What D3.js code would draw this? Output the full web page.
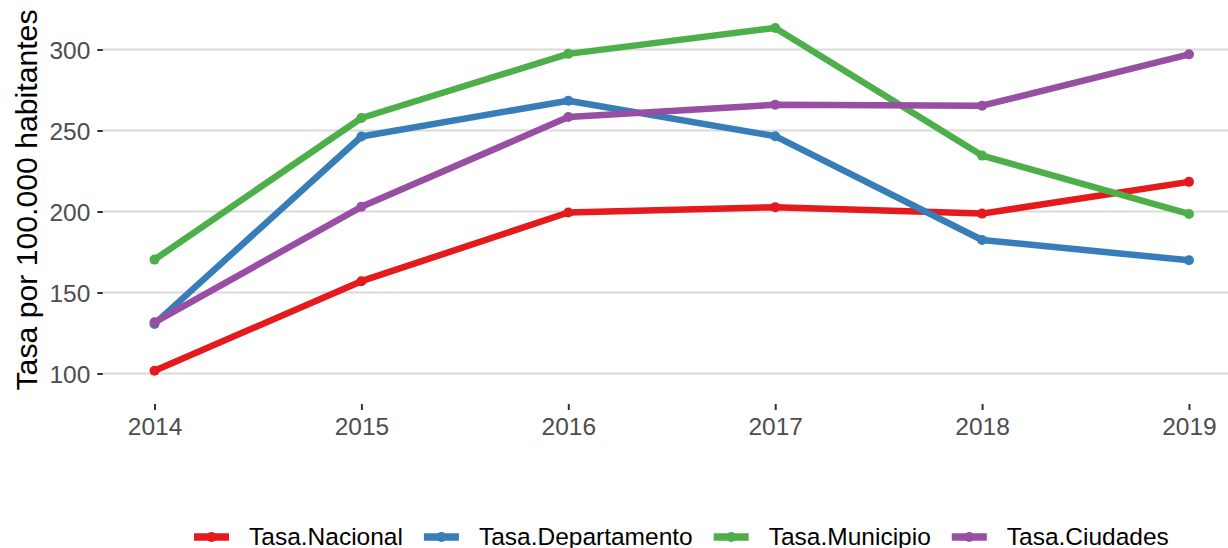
<!DOCTYPE html>
<html>
<head>
<meta charset="utf-8">
<script src="https://cdn.jsdelivr.net/npm/d3@7"></script>
<style>
  body { margin: 0; background: #fff; }
  svg { display: block; font-family: "Liberation Sans", Arial, sans-serif; }
</style>
</head>
<body>
<div id="chart"></div>
<script>
// data
var years = [2014, 2015, 2016, 2017, 2018, 2019];
var seriesNames = ["Tasa.Nacional", "Tasa.Departamento", "Tasa.Municipio", "Tasa.Ciudades"];
var tasaNacional = [101.7, 157.0, 199.4, 202.7, 198.7, 218.3];
var tasaDepartamento = [130.6, 246.3, 268.4, 246.5, 182.4, 169.9];
var tasaMunicipio = [170.3, 257.7, 297.3, 313.3, 234.5, 198.5];
var tasaCiudades = [131.6, 202.9, 258.3, 265.9, 265.3, 297.0];
var yTicks = [100, 150, 200, 250, 300];
var colors = ["#E41A1C", "#377EB8", "#4DAF4A", "#984EA3"];

var W = 1228, H = 548;
var margin = {top: 10.8, left: 102.8, right: -12.7, bottom: 144};
var panelW = W - margin.left - margin.right,
    panelH = 387.9 - margin.top;

var allSeries = [tasaNacional, tasaDepartamento, tasaMunicipio, tasaCiudades];
var series = seriesNames.map(function(name, i) {
  return {name: name, color: colors[i], values: years.map(function(y, j) { return {year: y, value: allSeries[i][j]}; })};
});

// ggplot-like 5% expansion
var yMin = d3.min(allSeries, function(s) { return d3.min(s); }),
    yMax = d3.max(allSeries, function(s) { return d3.max(s); }),
    yPad = (yMax - yMin) * 0.05,
    xPad = (d3.max(years) - d3.min(years)) * 0.05;

var x = d3.scaleLinear()
  .domain([d3.min(years) - xPad, d3.max(years) + xPad])
  .range([margin.left, margin.left + panelW]);
var y = d3.scaleLinear()
  .domain([yMin - yPad, yMax + yPad])
  .range([margin.top + panelH, margin.top]);

var svg = d3.select("#chart").append("svg")
  .attr("width", W)
  .attr("height", H);

// horizontal gridlines
svg.append("g").selectAll("line")
  .data(yTicks)
  .enter().append("line")
  .attr("x1", margin.left)
  .attr("x2", margin.left + panelW)
  .attr("y1", function(d) { return y(d); })
  .attr("y2", function(d) { return y(d); })
  .attr("stroke", "#DADADA")
  .attr("stroke-width", 2);

// y axis
var yAxis = svg.append("g")
  .attr("transform", "translate(" + margin.left + ",0)")
  .call(d3.axisLeft(y).tickValues(yTicks).tickSize(5.5).tickPadding(7));
yAxis.select(".domain").remove();
yAxis.selectAll(".tick line").attr("stroke", "#333").attr("stroke-width", 2);
yAxis.selectAll(".tick text")
  .attr("fill", "#4D4D4D")
  .style("font-size", "24.5px")
  .attr("dy", "0.36em");

// x axis
var xAxis = svg.append("g")
  .attr("transform", "translate(0,404)")
  .call(d3.axisBottom(x).tickValues(years).tickFormat(d3.format("d")).tickSize(6).tickPadding(8));
xAxis.select(".domain").remove();
xAxis.selectAll(".tick line").attr("stroke", "#333").attr("stroke-width", 2);
xAxis.selectAll(".tick text")
  .attr("fill", "#4D4D4D")
  .style("font-size", "24.5px")
  .attr("y", 31)
  .attr("dy", 0);

// y axis title
svg.append("text")
  .attr("transform", "translate(37,200) rotate(-90)")
  .attr("text-anchor", "middle")
  .style("font-size", "30.2px")
  .attr("fill", "#000")
  .text("Tasa por 100.000 habitantes");

// lines
var line = d3.line()
  .x(function(d) { return x(d.year); })
  .y(function(d) { return y(d.value); });

svg.append("g").selectAll("path")
  .data(series)
  .enter().append("path")
  .attr("d", function(d) { return line(d.values); })
  .attr("fill", "none")
  .attr("stroke", function(d) { return d.color; })
  .attr("stroke-width", 6.5)
  .attr("stroke-linejoin", "round");

// points
svg.append("g").selectAll("g")
  .data(series)
  .enter().append("g")
  .attr("fill", function(d) { return d.color; })
  .selectAll("circle")
  .data(function(d) { return d.values; })
  .enter().append("circle")
  .attr("cx", function(d) { return x(d.year); })
  .attr("cy", function(d) { return y(d.value); })
  .attr("r", 5);

// legend
var legend = svg.append("g").attr("transform", "translate(194,537)");
var lx = 0;
series.forEach(function(s) {
  var item = legend.append("g").attr("transform", "translate(" + lx + ",0)");
  item.append("line")
    .attr("x1", 0).attr("x2", 35)
    .attr("stroke", s.color)
    .attr("stroke-width", 7.5);
  item.append("circle")
    .attr("cx", 17.5).attr("r", 5)
    .attr("fill", s.color);
  var t = item.append("text")
    .attr("x", 55)
    .attr("y", 7.5)
    .style("font-size", "24.5px")
    .attr("fill", "#000")
    .text(s.name);
  lx += 55 + t.node().getComputedTextLength() + 21;
});
</script>
</body>
</html>
